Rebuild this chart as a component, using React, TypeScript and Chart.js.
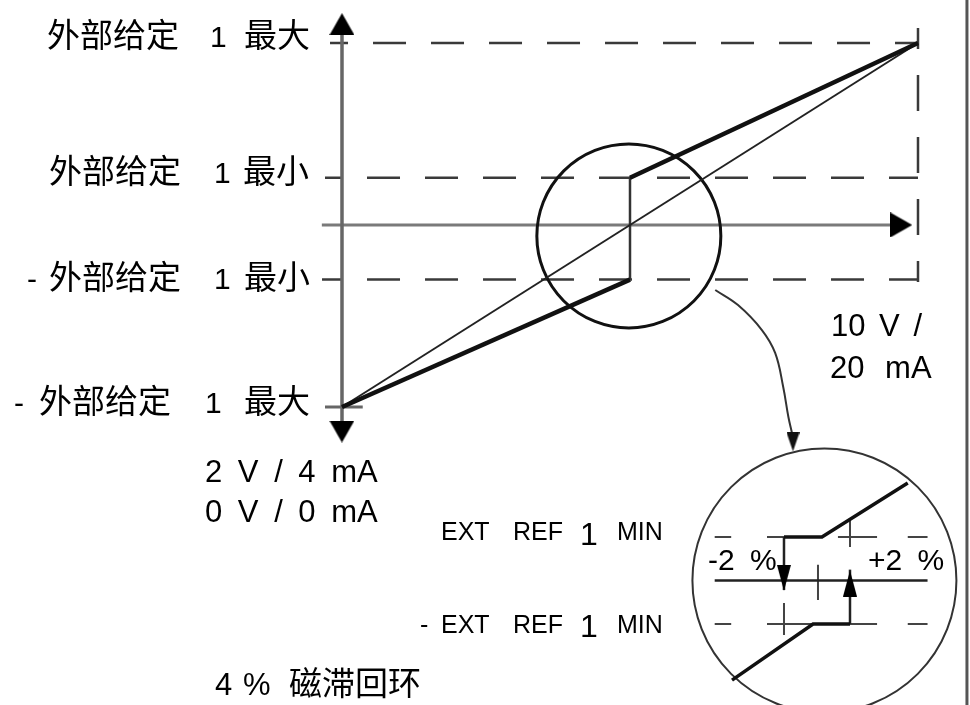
import React, { useEffect, useRef } from 'react';
import { Chart, registerables } from 'chart.js';

Chart.register(...registerables);

// ---------- main diagram: x = analogue input (% of span), y = reference (% of EXT REF 1 MAX)
const refName = '外部给定';
const refIndex = '1';
const levelWords = ['最大', '最小', '最小', '最大'];
const levelValues = [100, 26, -30, -100];
const inputSpanEnd = 100;
const inputLowLabels = ['2 V / 4 mA', '0 V / 0 mA'];
const inputHighLabels = ['10 V /', '20 mA'];

const linearRef: number[][] = [[0, -100], [100, 100]];
const upperBranch: number[][] = [[50, 26], [100, 100]];
const lowerBranch: number[][] = [[0, -100], [50, -30]];
const switchJump: number[][] = [[50, 26], [50, -30]];
const magnifierCenter: number[][] = [[49.8, -6]];
const leaderCurve: number[][] = [
  [64.8, -35.7], [68.75, -44], [72.9, -57.7], [75.2, -70.3], [76.6, -89], [77.5, -105.5], [78.1, -114],
];
const axisEnds = { top: 110.4, bottom: -113.5, right: 97.1, left: -3.5 };

// ---------- inset: x = input deviation (%), y = reference in units of EXT REF 1 MIN
const hysteresis = [-2, 2];
const insetLevels = [1, -1];
const insetUpper: number[][] = [[-2, 1], [0.3, 1], [5.5, 2.24]];
const insetLower: number[][] = [[2, -1], [-0.24, -1], [-5.15, -2.29]];
const insetZero: number[][] = [[-6.2, 0], [6.7, 0]];
const insetCenter: number[][] = [[0.45, 0]];

export default function App() {
  const ref = useRef<HTMLCanvasElement>(null);

  useEffect(() => {
    document.body.style.margin = '0';
    const canvas = ref.current!;

    const arrowImg = (w: number, h: number, color = '#000') => {
      const c = document.createElement('canvas');
      c.width = w;
      c.height = h;
      const g = c.getContext('2d')!;
      g.fillStyle = color;
      g.beginPath();
      g.moveTo(w / 2, 0);
      g.lineTo(w, h);
      g.lineTo(0, h);
      g.closePath();
      g.fill();
      return c;
    };
    const bigArrow = arrowImg(25, 22, '#000');
    const smallArrow = arrowImg(13, 19, '#111');
    const insetArrow = arrowImg(14, 26, '#000');

    const pts = (a: number[][]) => a.map(([x, y]) => ({ x, y }));
    const line = (a: number[][], color: string, width: number, inset = false, extra: any = {}) => ({
      data: pts(a),
      showLine: true,
      pointRadius: 0,
      borderColor: color,
      borderWidth: width,
      borderCapStyle: 'butt',
      xAxisID: inset ? 'xi' : 'x',
      yAxisID: inset ? 'yi' : 'y',
      ...extra,
    });
    const marker = (a: number[][], img: HTMLCanvasElement, rot: number[], inset = false) => ({
      data: pts(a),
      showLine: false,
      pointStyle: img,
      pointRadius: 10,
      pointRotation: rot,
      xAxisID: inset ? 'xi' : 'x',
      yAxisID: inset ? 'yi' : 'y',
    });
    const ring = (a: number[][], r: number, color: string, width: number, inset = false) => ({
      data: pts(a),
      showLine: false,
      pointStyle: 'circle',
      pointRadius: r,
      pointBorderWidth: width,
      pointBorderColor: color,
      pointBackgroundColor: 'rgba(0,0,0,0)',
      clip: false,
      xAxisID: inset ? 'xi' : 'x',
      yAxisID: inset ? 'yi' : 'y',
    });

    const dashStarts = [-2.08, -2.95, -3.47];
    const dashOffsets = [15, 16, 13];
    const levelDashes = levelValues.slice(0, 3).map((v, i) =>
      line([[dashStarts[i], v], [inputSpanEnd, v]], '#3a3a3a', 2.5, false, {
        borderDash: [33, 25],
        borderDashOffset: dashOffsets[i],
      })
    );

    const insetDashSegs: number[][][] = [
      [[-6.2, insetLevels[0]], [-5.2, insetLevels[0]]],
      [[-3.03, insetLevels[0]], [-2, insetLevels[0]]],
      [[1.27, insetLevels[0]], [3.64, insetLevels[0]]],
      [[5.5, insetLevels[0]], [6.7, insetLevels[0]]],
      [[-6.2, insetLevels[1]], [-5.2, insetLevels[1]]],
      [[-3.03, insetLevels[1]], [3.64, insetLevels[1]]],
      [[5.5, insetLevels[1]], [6.7, insetLevels[1]]],
      [[hysteresis[0], -0.52], [hysteresis[0], -1.25]],
      [[hysteresis[1], 0.77], [hysteresis[1], 1.39]],
      [[0.06, 0.36], [0.06, -0.45]],
    ];

    const datasets: any[] = [
      marker([[0, axisEnds.top], [0, axisEnds.bottom], [axisEnds.right, 0]], bigArrow, [0, 180, 90]),
      marker([[78.3, -119.2]], smallArrow, [180]),
      marker([[hysteresis[0], 0.06], [hysteresis[1], -0.07]], insetArrow, [180, 0], true),
      line(upperBranch, '#111', 4.5),
      line(lowerBranch, '#111', 4.5),
      line(linearRef, '#222', 2),
      line(switchJump, '#333', 2.5),
      ring(magnifierCenter, 92, '#111', 3),
      line(leaderCurve, '#333', 2, false, { tension: 0.4 }),
      line([[0, axisEnds.top], [0, axisEnds.bottom]], '#666', 3.5),
      line([[axisEnds.left, 0], [axisEnds.right, 0]], '#7a7a7a', 3),
      line([[-2.95, levelValues[3]], [3.6, levelValues[3]]], '#666', 3),
      ...levelDashes,
      line([[inputSpanEnd, 108.2], [inputSpanEnd, -31.3]], '#3a3a3a', 2.5, false, {
        borderDash: [36, 26],
        borderDashOffset: 15,
      }),
      line([[108.5, 124], [108.5, -264]], '#555', 3),
      line(insetUpper, '#111', 3.5, true),
      line(insetLower, '#111', 3.5, true),
      line([[hysteresis[0], insetLevels[0]], [hysteresis[0], -0.22]], '#222', 2.5, true),
      line([[hysteresis[1], insetLevels[1]], [hysteresis[1], 0.25]], '#222', 2.5, true),
      line(insetZero, '#222', 2.5, true),
      ring(insetCenter, 132, '#333', 2, true),
      ...insetDashSegs.map((s) => line(s, '#444', 2, true)),
    ];

    const LATIN = (s: number) => `${s}px "Liberation Sans", Arial, sans-serif`;
    const CJK = (s: number) => `${s}px "Noto Sans CJK SC", sans-serif`;

    const leftLayout = [
      { dash: null, cjk: 47, one: 210, word: 244, base: 47 },
      { dash: null, cjk: 49, one: 214, word: 243, base: 183 },
      { dash: 27, cjk: 49, one: 214, word: 244, base: 289 },
      { dash: 14, cjk: 39, one: 205, word: 244, base: 413 },
    ];

    const textPlugin = {
      id: 'diagramText',
      afterDatasetsDraw(c: any) {
        const ctx = c.ctx as CanvasRenderingContext2D;
        ctx.save();
        ctx.fillStyle = '#000';
        ctx.textBaseline = 'alphabetic';
        ctx.textAlign = 'left';
        const put = (t: string, x: number, y: number, font: string, ws = 6) => {
          ctx.font = font;
          (ctx as any).wordSpacing = ws + 'px';
          ctx.fillText(t, x, y);
        };
        leftLayout.forEach((L, i) => {
          if (levelValues[i] < 0 && L.dash !== null) put('-', L.dash, L.base, LATIN(30));
          put(refName, L.cjk, L.base, CJK(33));
          put(refIndex, L.one, L.base, LATIN(30));
          put(levelWords[i], L.word, L.base, CJK(33));
        });
        put(inputLowLabels[0], 205, 482, LATIN(31), 7);
        put(inputLowLabels[1], 205, 522, LATIN(31), 7);
        put(inputHighLabels[0], 831, 336, LATIN(31), 5);
        put(inputHighLabels[1], 830, 378, LATIN(31), 12);

        const rows = [
          { dash: null, base: 540, oneBase: 545 },
          { dash: 420, base: 633, oneBase: 637 },
        ];
        rows.forEach((r) => {
          if (r.dash !== null) put('-', r.dash, r.base, LATIN(25));
          put('EXT', 441, r.base, LATIN(25));
          put('REF', 513, r.base, LATIN(25));
          put(refIndex, 580, r.oneBase, LATIN(32));
          put('MIN', 617, r.base, LATIN(25));
        });
        put(`${hysteresis[0]} %`, 708, 570, LATIN(30), 7);
        put(`+${hysteresis[1]} %`, 868, 570, LATIN(30), 7);

        const span = hysteresis[1] - hysteresis[0];
        put(String(span), 215, 695, LATIN(31));
        put('%', 243, 695, LATIN(31));
        put('磁滞回环', 289, 695, CJK(33));
        ctx.restore();
      },
    };

    const chart = new Chart(canvas, {
      type: 'scatter',
      data: { datasets },
      options: {
        animation: false,
        responsive: false,
        devicePixelRatio: 1,
        events: [],
        layout: { padding: 0, autoPadding: false },
        plugins: { legend: { display: false }, tooltip: { enabled: false }, title: { display: false } },
        scales: {
          x: { type: 'linear', display: false, min: -59.375, max: 109.028 },
          y: { type: 'linear', display: false, min: -263.736, max: 123.626 },
          xi: { type: 'linear', axis: 'x', display: false, min: -49.515, max: 9.273 },
          yi: { type: 'linear', axis: 'y', display: false, min: -2.862, max: 13.345 },
        },
      } as any,
      plugins: [textPlugin],
    });
    return () => chart.destroy();
  }, []);

  return (
    <div style={{ width: 970, height: 705, background: '#fff' }}>
      <canvas ref={ref} width={970} height={705} style={{ display: 'block' }} />
    </div>
  );
}
